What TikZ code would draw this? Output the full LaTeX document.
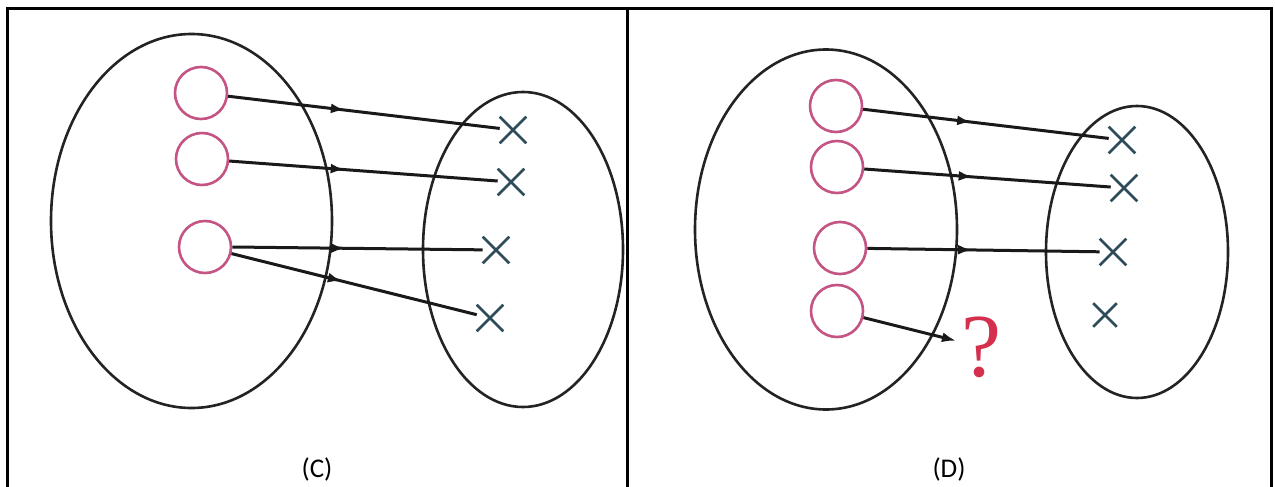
\documentclass[tikz,border=0pt]{standalone}
\usepackage{fontspec}
\setmainfont{Carlito}
\newfontfamily\qfont{Liberation Serif}
\usetikzlibrary{arrows.meta,shapes.misc,decorations.markings}
\definecolor{pinkline}{RGB}{196,84,132}
\definecolor{crossline}{RGB}{45,75,88}
\definecolor{setline}{RGB}{35,35,35}
\definecolor{qred}{RGB}{212,48,78}
\tikzset{
  elem/.style={circle,draw=pinkline,line width=2.6pt,minimum size=52pt,inner sep=0pt},
  img/.style={cross out,draw=crossline,line width=2.6pt,minimum size=24pt,inner sep=0pt},
  setring/.style={draw=setline,line width=2.6pt},
  frame/.style={draw=black,line width=3pt},
  conn/.style={line width=3pt,draw=black!90,
    decoration={markings,mark=at position #1 with {\arrow{Latex[length=14pt,width=10pt]}}},
    postaction={decorate}},
  conn/.default=0.44,
  caplabel/.style={font=\fontsize{27}{32}\selectfont,inner sep=0pt,anchor=base}
}
\begin{document}
\begin{tikzpicture}[x=1pt,y=-1pt]
\useasboundingbox (0,0) rectangle (1275,487);
\fill[white] (0,0) rectangle (1275,487);
% table frame
\draw[frame] (7,487) -- (7,9) -- (1271,9) -- (1271,487);
\draw[frame] (627,9) -- (627,487);
% ---------- panel C ----------
\draw[setring] (191.5,221) ellipse [x radius=140.5pt, y radius=187pt];
\draw[setring] (523,249.5) ellipse [x radius=100pt, y radius=157.5pt];
\node[elem] (ca) at (201,93) {};
\node[elem] (cb) at (202,159) {};
\node[elem] (cc) at (205,247) {};
\node[img] (cx1) at (513,130) {};
\node[img] (cx2) at (511,182) {};
\node[img] (cx3) at (496,250) {};
\node[img] (cx4) at (490,318) {};
\draw[conn=0.43] (ca) -- (cx1);
\draw[conn=0.43] (cb) -- (cx2);
\draw[conn=0.45] (cc.east) -- (cx3);
\draw[conn=0.45] (cc) -- (cx4);
\node[caplabel] (capC) at (317,477) {(C)};
% ---------- panel D ----------
\draw[setring] (826,229.5) ellipse [x radius=131pt, y radius=180pt];
\draw[setring] (1137,252) ellipse [x radius=91pt, y radius=146pt];
\node[elem] (da) at (836,106) {};
\node[elem] (db) at (837,167) {};
\node[elem] (dc) at (840,248) {};
\node[elem] (dd) at (837,311) {};
\node[img] (dx1) at (1122,140) {};
\node[img] (dx2) at (1124,188) {};
\node[img] (dx3) at (1113,252) {};
\node[img,minimum size=21pt] (dx4) at (1105,315) {};
\node[font=\qfont\fontsize{90}{90}\selectfont,text=qred,inner sep=0pt] (q) at (981,347) {?};
\draw[conn=0.44] (da) -- (dx1);
\draw[conn=0.44] (db) -- (dx2);
\draw[conn=0.45] (dc) -- (dx3);
\draw[line width=3pt,draw=black!90,-{Latex[length=14pt,width=10pt]},shorten >=5pt] (dd) -- (q);
\node[caplabel] (capD) at (949,477) {(D)};
\end{tikzpicture}
\end{document}
